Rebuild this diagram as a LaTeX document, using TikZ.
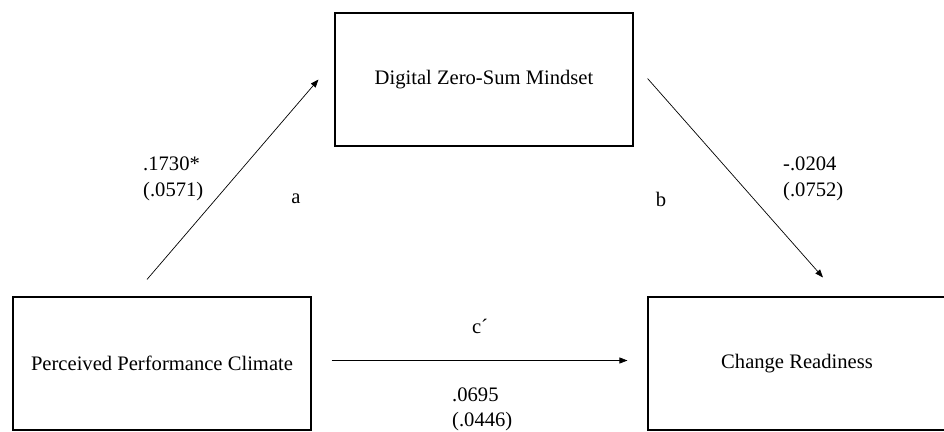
\documentclass[tikz,border=0pt]{standalone}
\usepackage{fontspec}
\setmainfont{Liberation Serif}
\usetikzlibrary{arrows.meta, positioning, calc}
\tikzset{
    varbox/.style={draw, line width=1.1pt, minimum width=298pt, minimum height=133pt, inner sep=0pt},
    patharrow/.style={-{Triangle[length=8pt, width=6pt]}, line width=0.7pt},
    coef/.style={align=left, anchor=west, inner sep=0pt}
}
\begin{document}
\begin{tikzpicture}[x=1pt, y=-1pt, font=\fontsize{20.6}{25.5}\selectfont]
        \useasboundingbox (0,0) rectangle (944,431);

        % Variables
        \node[varbox] (PPC) at (162,363.5) {Perceived Performance Climate};
        \node[varbox] (DZS) at (484,79.5) {Digital Zero-Sum Mindset};
        \node[varbox] (CR) at (797,363.5) {Change Readiness};

        % Free ends of the paths
        \coordinate (astart) at ($(PPC.north) + (-15,-17)$);
        \coordinate (aend) at ($(DZS.west) + (-16,0)$);
        \coordinate (bstart) at ($(DZS.east) + (14,-1)$);
        \coordinate (bend) at ($(CR.north) + (26,-19)$);
        \coordinate (cstart) at ($(PPC.east) + (20,-3)$);
        \coordinate (cend) at ($(CR.west) + (-20,-3)$);

        % Paths
        \draw[patharrow] (astart) -- (aend);
        \draw[patharrow] (bstart) -- (bend);
        \draw[patharrow] (cstart) -- (cend);

        % Path names
        \node (alabel) at (296,199) {a};
        \node (blabel) at (661,199) {b};
        \node (clabel) at (480,326) {c´};

        % Coefficients
        \node[coef] (acoef) at (143,179) {.1730*\\(.0571)};
        \node[coef] (bcoef) at (783,179) {-.0204\\(.0752)};
        \node[coef] (ccoef) at (452,409.5) {.0695\\(.0446)};
    \end{tikzpicture}
\end{document}
